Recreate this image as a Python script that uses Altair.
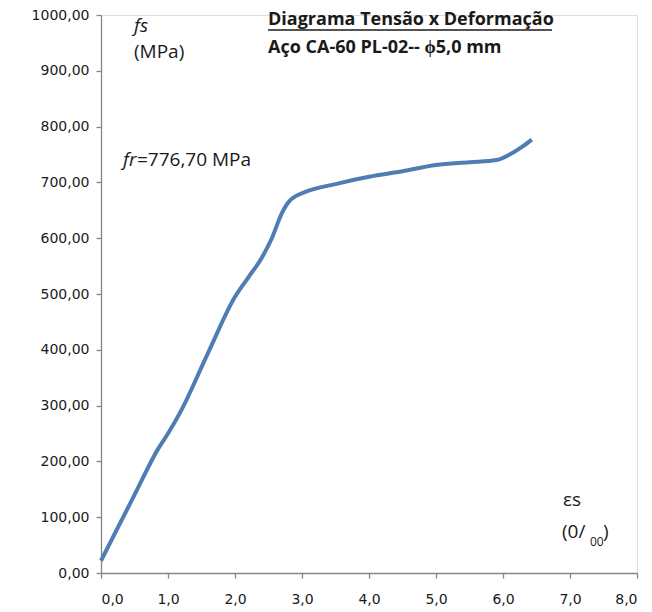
import altair as alt
import pandas as pd

# strain (per mille) and stress (MPa)
strain = [0.0, 0.5, 0.85, 1.0, 1.2, 1.6, 2.0, 2.2, 2.4, 2.55, 2.7, 2.8, 2.9, 3.05,
          3.5, 4.0, 4.5, 5.0, 5.5, 5.9, 6.1, 6.3, 6.43]
stress = [22, 140, 222, 250, 292, 395, 495, 530, 565, 600, 645, 665, 675, 683,
          697, 710, 720, 731, 736, 740, 750, 765, 776.7]

x_ticks = [0, 1, 2, 3, 4, 5, 6, 7, 8]
y_ticks = [0, 100, 200, 300, 400, 500, 600, 700, 800, 900, 1000]

df = pd.DataFrame({"es": strain, "fs": stress})

FONT = "DejaVu Sans"
TFONT = "Open Sans"
AX = dict(grid=False, title=None, tickSize=5, labelFont=FONT, labelFontSize=14,
          labelColor="#1a1a1a", domainColor="#868686", tickColor="#868686",
          domainWidth=1.3, tickWidth=1.3)

line = alt.Chart(df).mark_line(color="#4F7CB3", strokeWidth=4, interpolate="monotone").encode(
    x=alt.X("es:Q", scale=alt.Scale(domain=[0, 8], nice=False),
            axis=alt.Axis(values=x_ticks,
                          labelExpr="replace(format(datum.value, '.1f'), '.', ',')",
                          labelPadding=14, **AX)),
    y=alt.Y("fs:Q", scale=alt.Scale(domain=[0, 1000], nice=False),
            axis=alt.Axis(values=y_ticks,
                          labelExpr="replace(format(datum.value, '.2f'), '.', ',')",
                          labelPadding=7, **AX)),
)

def txt(s, x, y, size=19, weight="normal", style="normal", font=TFONT, align="left"):
    return alt.Chart(pd.DataFrame({"t": [s]})).mark_text(
        align=align, baseline="middle", fontSize=size, fontWeight=weight,
        fontStyle=style, font=font, color="#1a1a1a"
    ).encode(text="t:N", x=alt.value(x), y=alt.value(y))

texts = [
    txt("fs", 33, 11, style="italic"),
    txt("(MPa)", 33, 37),
    txt("Diagrama Tensão x Deformação", 167, 5, size=18, weight="bold"),
    txt("Aço CA-60 PL-02-- ϕ5,0 mm", 167, 33, size=18, weight="bold"),
    txt("fr", 22, 145, style="italic"),
    txt("=776,70 MPa", 36, 145),
    txt("εs", 462, 485),
    txt("(0/", 461, 517),
    txt("00", 489, 527, size=12),
    txt(")", 502, 517),
]

underline = alt.Chart(pd.DataFrame({"a": [0]})).mark_rule(color="#1a1a1a", strokeWidth=1.3).encode(
    x=alt.value(167), x2=alt.value(451), y=alt.value(15)
)

chart = alt.layer(line, *texts, underline).properties(
    width=536, height=558,
    autosize="none",
    padding={"left": 101, "top": 15, "right": 15, "bottom": 39},
).configure_view(stroke=None).configure(background="white")

chart.save("out.html", embed_options={"renderer": "svg", "actions": False})
